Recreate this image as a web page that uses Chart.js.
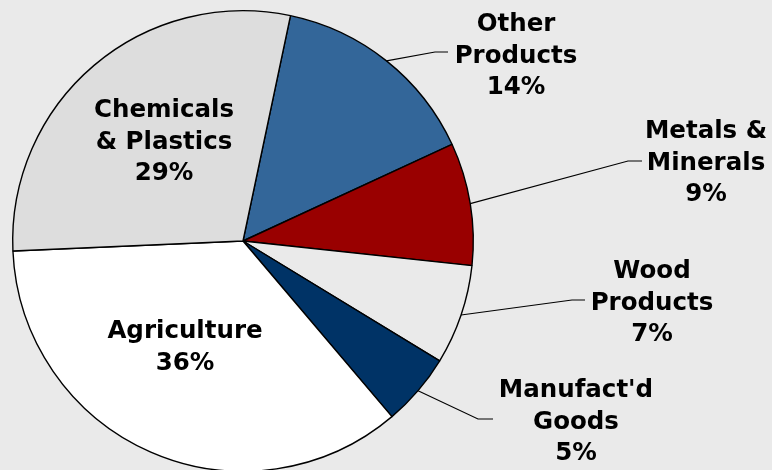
<!DOCTYPE html>
<html>
<head>
<meta charset="utf-8">
<script src="https://cdn.jsdelivr.net/npm/chart.js@4/dist/chart.umd.min.js"></script>
<style>
  html, body { margin: 0; padding: 0; background: #eaeaea; overflow: hidden; }
  #wrap { position: absolute; left: 0; top: 0; width: 772px; height: 472px; }
</style>
</head>
<body>
<div id="wrap"><canvas id="c"></canvas></div>
<script>
// ---- data ----
const categories = ['Other Products', 'Metals & Minerals', 'Wood Products', "Manufact'd Goods", 'Agriculture', 'Chemicals & Plastics'];
const shares = [14.8, 8.6, 7.0, 5.1, 35.5, 29.0];
const pctLabels = ['14%', '9%', '7%', '5%', '36%', '29%'];
const nameLines = [['Other', 'Products'], ['Metals &', 'Minerals'], ['Wood', 'Products'], ["Manufact'd", 'Goods'], ['Agriculture'], ['Chemicals', '& Plastics']];

// ---- styling / layout ----
const sliceColors = ['#336699', '#990000', '#eaeaea', '#003366', '#ffffff', '#dddddd'];
const labelLayout = [
  { x: 516, y: 31, elbow: [435, 52], end: [448, 52] },
  { x: 706, y: 138, elbow: [628, 161], end: [642, 161] },
  { x: 652, y: 278, elbow: [572, 300], end: [585, 300] },
  { x: 576, y: 397, elbow: [478, 419], end: [493, 419] },
  { x: 185, y: 338 },
  { x: 164, y: 117 }
];
const lineHeight = 31.5;

const labelPlugin = {
  id: 'sliceLabels',
  afterDatasetsDraw(chart) {
    const ctx = chart.ctx;
    const arcs = chart.getDatasetMeta(0).data;
    ctx.save();
    ctx.strokeStyle = '#000';
    ctx.lineWidth = 1.1;
    arcs.forEach((arc, i) => {
      const L = labelLayout[i];
      if (L.elbow) {
        const p = arc.getProps(['x', 'y', 'startAngle', 'endAngle', 'outerRadius'], true);
        const mid = (p.startAngle + p.endAngle) / 2;
        const sx = p.x + Math.cos(mid) * p.outerRadius;
        const sy = p.y + Math.sin(mid) * p.outerRadius;
        ctx.beginPath();
        ctx.moveTo(sx, sy);
        ctx.lineTo(L.elbow[0], L.elbow[1]);
        ctx.lineTo(L.end[0], L.end[1]);
        ctx.stroke();
      }
    });
    ctx.fillStyle = '#000';
    ctx.font = "bold 24.5px 'DejaVu Sans', Verdana, sans-serif";
    ctx.textAlign = 'center';
    ctx.textBaseline = 'alphabetic';
    arcs.forEach((arc, i) => {
      const L = labelLayout[i];
      const lines = nameLines[i].concat([pctLabels[i]]);
      lines.forEach((t, k) => ctx.fillText(t, L.x, L.y + k * lineHeight));
    });
    ctx.restore();
  }
};

new Chart(document.getElementById('c'), {
  type: 'pie',
  data: {
    labels: categories,
    datasets: [{
      data: shares,
      backgroundColor: sliceColors,
      borderColor: '#000',
      borderWidth: 1.4
    }]
  },
  options: {
    responsive: true,
    maintainAspectRatio: false,
    animation: false,
    rotation: 11.9,
    layout: { padding: { left: 12, right: 298, top: 10, bottom: 0 } },
    plugins: { legend: { display: false }, tooltip: { enabled: false } }
  },
  plugins: [labelPlugin]
});
</script>
</body>
</html>
